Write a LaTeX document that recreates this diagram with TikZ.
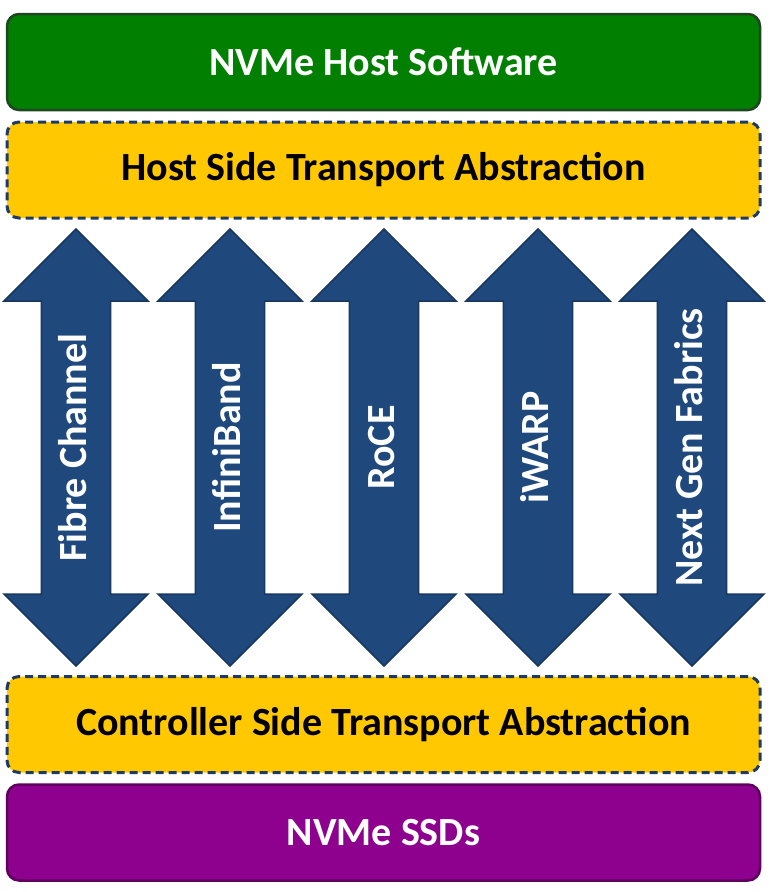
\documentclass[tikz,border=0pt]{standalone}
\usepackage{fontspec}
\setmainfont{Carlito}
\usepackage{xcolor}
\usetikzlibrary{shapes.arrows}

\definecolor{hostgreen}{HTML}{007F00}
\definecolor{hostgreenline}{HTML}{1E4620}
\definecolor{transyellow}{HTML}{FFC800}
\definecolor{dashnavy}{HTML}{1F3B64}
\definecolor{fabricblue}{HTML}{1F497D}
\definecolor{fabricline}{HTML}{17375E}
\definecolor{ssdpurple}{HTML}{8E008E}
\definecolor{ssdpurpleline}{HTML}{5E005E}

\begin{document}
\begin{tikzpicture}[
  x=1pt, y=-1pt,
  layer/.style={rectangle, rounded corners=12pt, minimum width=753pt, minimum height=96pt,
    line width=2.5pt, font=\fontsize{40}{46}\selectfont\bfseries},
  solidlayer/.style={layer, text=white},
  translayer/.style={layer, fill=transyellow, draw=dashnavy, line width=3pt,
    dash pattern=on 8pt off 5pt},
  fabric/.style={double arrow, rotate=90, draw=fabricline, fill=fabricblue, line width=1.5pt,
    minimum height=437pt, minimum width=144pt, double arrow head extend=36.5pt,
    double arrow tip angle=90, inner xsep=0pt, inner ysep=15pt,
    text height=28pt, text depth=8pt, text=white,
    font=\fontsize{40}{46}\selectfont\bfseries},
]

\useasboundingbox (0,0) rectangle (774,892);

%% Layers
\node[solidlayer, fill=hostgreen, draw=hostgreenline] (hostsw) at (383.5,62) {NVMe Host Software};
\node[translayer] (hostta) at (383.5,170) {Host Side Transport Abstraction};
\node[translayer] (ctrlta) at (383.5,724.5) {Controller Side Transport Abstraction};
\node[solidlayer, fill=ssdpurple, draw=ssdpurpleline] (ssds) at (383.5,832.5) {NVMe SSDs};

%% Fabrics
\node[fabric] (fc)   at (76,447.5)  {Fibre Channel};
\node[fabric] (ib)   at (230,447.5) {InfiniBand};
\node[fabric] (roce) at (384,447.5) {RoCE};
\node[fabric] (iwarp) at (538,447.5) {iWARP};
\node[fabric] (ngf)  at (692,447.5) {Next Gen Fabrics};

\end{tikzpicture}
\end{document}
